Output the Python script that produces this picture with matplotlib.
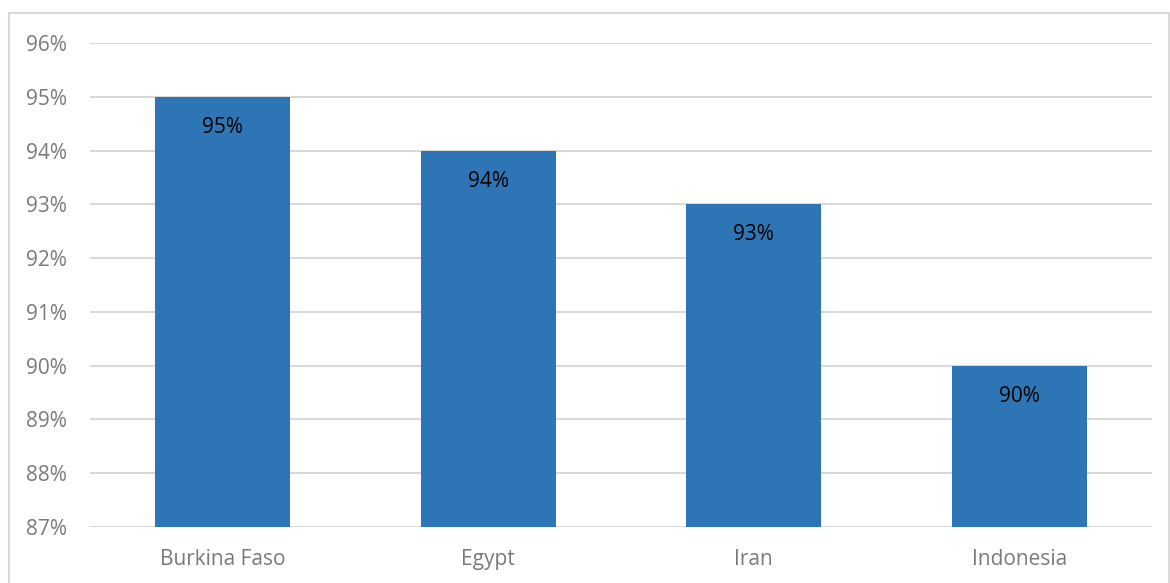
#! /usr/bin/env python

import matplotlib.pyplot as plt
from matplotlib.patches import Rectangle

# data
countries = ['Burkina Faso', 'Egypt', 'Iran', 'Indonesia']
values = [95, 94, 93, 90]
ytick_values = [87, 88, 89, 90, 91, 92, 93, 94, 95, 96]

if __name__ == "__main__":
    plt.rcParams['font.family'] = ['Open Sans', 'DejaVu Sans']

    W, H = 1170, 583
    fig = plt.figure(figsize=(W / 100, H / 100), dpi=100)
    ax = fig.add_axes([90 / W, 1 - 527 / H, (1152 - 90) / W, (527 - 43) / H])

    bars = ax.bar(range(len(countries)), values, width=0.507,
                  color='#2E75B6', zorder=2)

    # data labels just inside the top of each bar
    for bar, v in zip(bars, values):
        ax.annotate('%d%%' % v, (bar.get_x() + bar.get_width() / 2, v),
                    xytext=(0, -22), textcoords='offset points',
                    ha='center', va='center', fontsize=15, color='black')

    ax.set_ylim(87, 96)
    ax.set_xlim(-0.5, len(countries) - 0.5)
    ax.set_yticks(ytick_values)
    ax.set_yticklabels(['%d%%' % t for t in ytick_values])
    ax.set_xticks(range(len(countries)))
    ax.set_xticklabels(countries)
    ax.tick_params(axis='both', length=0, labelsize=15, colors='#7a7a7a')
    ax.tick_params(axis='y', pad=16.5)
    ax.tick_params(axis='x', pad=16)

    ax.grid(axis='y', color='#d9d9d9', linewidth=1.5, zorder=0)
    for s in ax.spines.values():
        s.set_visible(False)

    # outer chart border
    fig.patches.append(Rectangle((9 / W, -0.05), (W - 10) / W, 1.05 - 13 / H,
                                 transform=fig.transFigure, fill=False,
                                 edgecolor='#d9d9d9', linewidth=1.5))

    plt.savefig('out.png', dpi=100)
